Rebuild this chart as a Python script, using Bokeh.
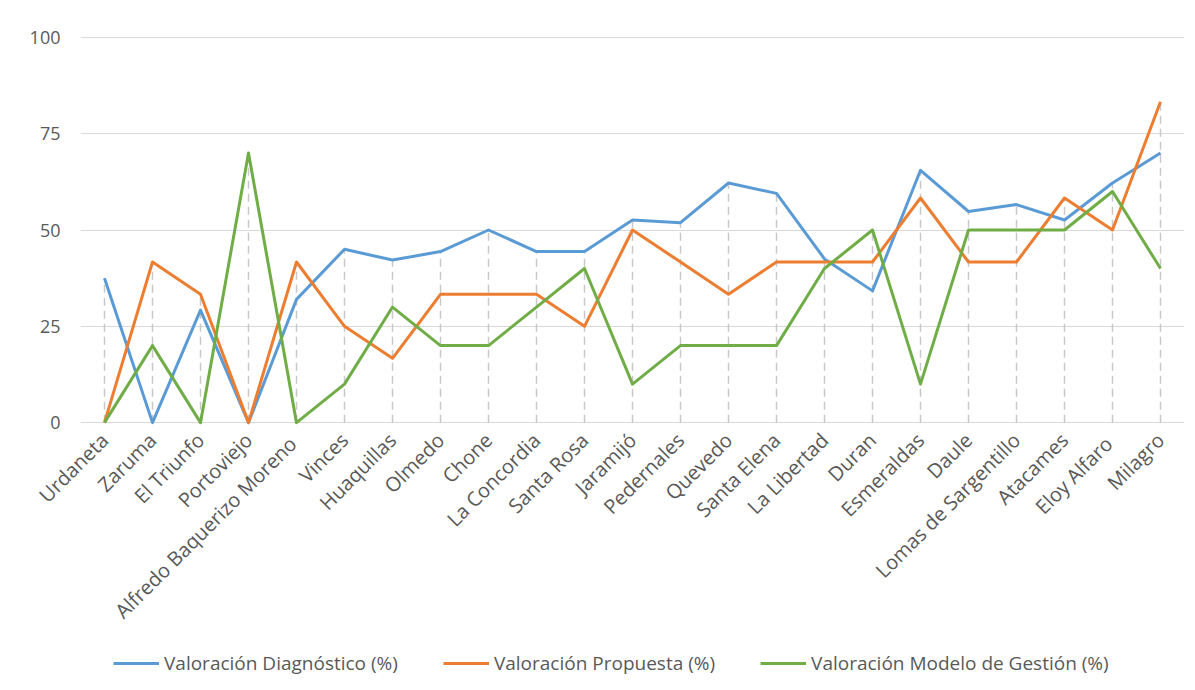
import numpy as np
from bokeh.plotting import figure
from bokeh.layouts import column
from bokeh.models import Range1d, FactorRange, Legend, LegendItem, FixedTicker
from bokeh.embed import file_html
from bokeh.resources import INLINE

categories = ["Urdaneta", "Zaruma", "El Triunfo", "Portoviejo", "Alfredo Baquerizo  Moreno",
              "Vinces", "Huaquillas", "Olmedo", "Chone", "La Concordia", "Santa Rosa",
              "Jaramijó", "Pedernales", "Quevedo", "Santa Elena", "La Libertad", "Duran",
              "Esmeraldas", "Daule", "Lomas de Sargentillo", "Atacames", "Eloy  Alfaro", "Milagro"]

diagnostico = [37.5, 0, 29.2, 0, 32, 45, 42.2, 44.4, 50, 44.4, 44.4,
               52.6, 51.9, 62.2, 59.5, 42.5, 34.2, 65.5, 54.8, 56.6, 52.6, 62.2, 70]
propuesta = [0, 41.7, 33.3, 0, 41.7, 25, 16.7, 33.3, 33.3, 33.3, 25,
             50, 41.7, 33.3, 41.7, 41.7, 41.7, 58.3, 41.7, 41.7, 58.3, 50, 83.3]
modelo = [0, 20, 0, 70, 0, 10, 30, 20, 20, 30, 40,
          10, 20, 20, 20, 40, 50, 10, 50, 50, 50, 60, 40]

series_names = ["Valoración Diagnóstico (%)", "Valoración Propuesta (%)",
                "Valoración Modelo de Gestión (%)"]
series_colors = ["#5b9bd5", "#ed7d31", "#70ad47"]
y_ticks = [0, 25, 50, 75, 100]

FONT = "Open Sans"
TXT = "#595959"

W, H = 1187, 640
p = figure(width=W, height=H, output_backend="svg", toolbar_location=None,
           x_range=FactorRange(*categories, range_padding=0),
           y_range=Range1d(-1, 101),
           min_border_left=80, min_border_right=W - 1184, min_border_top=33,
           min_border_bottom=H - 426)

p.outline_line_color = None
p.background_fill_color = "white"
p.border_fill_color = "white"
p.xgrid.grid_line_color = None
p.ygrid.grid_line_color = "#d9d9d9"
p.ygrid.grid_line_width = 1
p.yaxis.ticker = FixedTicker(ticks=y_ticks)

p.yaxis.axis_line_color = None
p.yaxis.major_tick_line_color = None
p.yaxis.minor_tick_line_color = None
p.yaxis.major_label_text_font = FONT
p.yaxis.major_label_text_font_size = "18px"
p.yaxis.major_label_text_color = TXT
p.yaxis.major_label_standoff = 14

p.xaxis.axis_line_color = None
p.xaxis.major_tick_line_color = None
p.xaxis.minor_tick_line_color = None
p.xaxis.major_label_text_font = FONT
p.xaxis.major_label_text_font_size = "20px"
p.xaxis.major_label_text_color = TXT
p.xaxis.major_label_orientation = np.pi / 4
p.xaxis.major_label_standoff = 4

# drop lines from the highest value of each category
tops = np.maximum(np.maximum(diagnostico, propuesta), modelo)
p.segment(x0=categories, y0=[0] * len(categories), x1=categories, y1=list(tops),
          line_color="#c8c8c8", line_width=1.5, line_dash="8 5")

for vals, col in zip([diagnostico, propuesta, modelo], series_colors):
    p.line(x=categories, y=vals, line_color=col, line_width=3, line_join="round")

# legend strip below the chart
lg = figure(width=W, height=42, output_backend="svg", toolbar_location=None,
            x_range=Range1d(0, 1), y_range=Range1d(0, 1),
            min_border_left=80, min_border_right=W - 1184, min_border_top=0, min_border_bottom=0)
lg.axis.visible = False
lg.grid.visible = False
lg.outline_line_color = None
lg.border_fill_color = "white"
lg_renderers = [lg.line(x=[-5, -4], y=[-5, -4], line_color=c, line_width=3) for c in series_colors]
legend = Legend(items=[LegendItem(label=n, renderers=[r]) for n, r in zip(series_names, lg_renderers)],
                orientation="horizontal", location=(33, 6),
                glyph_width=46, glyph_height=24, label_standoff=5, spacing=45,
                padding=0, margin=0, border_line_alpha=0, background_fill_alpha=0,
                label_text_font=FONT, label_text_font_size="19px", label_text_color=TXT)
lg.add_layout(legend)

layout = column(p, lg, spacing=0)
open("out.html", "w").write(file_html(layout, INLINE))
